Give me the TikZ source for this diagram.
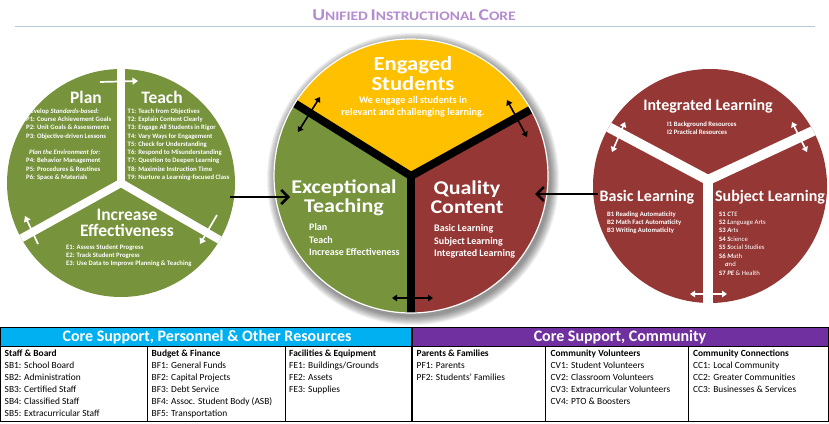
\documentclass[tikz,border=0pt]{standalone}
\usepackage{fontspec}
\usepackage{graphicx}
\setmainfont{Carlito}
\usetikzlibrary{arrows.meta}
\definecolor{cgreen}{HTML}{77933C}
\definecolor{cred}{HTML}{953735}
\definecolor{cyel}{HTML}{FFC000}
\definecolor{ccyan}{HTML}{00B0F0}
\definecolor{cpurple}{HTML}{7030A0}
\definecolor{ctitle}{HTML}{B48CD0}
\definecolor{crule}{HTML}{B9C8DA}
\newcommand\tcbig[1]{{\fontsize{16.5}{16.5}\selectfont #1}}
\newcommand\tcsml[1]{{\fontsize{13}{16.5}\selectfont #1}}
\newcommand\hstr[1]{\scalebox{1.13}[1]{#1}}
\begin{document}
\begin{tikzpicture}[x=1pt,y=-1pt,
 every node/.style={inner sep=0pt},
 ttl/.style={text=white,align=center,font=\bfseries\fontsize{17.5}{16}\selectfont},
 ctl/.style={text=white,align=center,font=\bfseries\fontsize{19.5}{19}\selectfont},
 etl/.style={text=white,align=center,font=\bfseries\fontsize{20}{20}\selectfont},
 rtl/.style={text=white,font=\bfseries\fontsize{16}{16}\selectfont},
 sml/.style={text=white,align=left,anchor=north west,font=\bfseries\fontsize{6.7}{8.25}\selectfont},
 smr/.style={text=white,align=left,anchor=north west,font=\fontsize{6.7}{8.45}\selectfont},
 clst/.style={text=white,align=left,anchor=north west,font=\bfseries\fontsize{10}{12.5}\selectfont},
 hdr/.style={text=white,font=\bfseries\fontsize{16}{16}\selectfont},
 cell/.style={align=left,anchor=north west,font=\fontsize{9.4}{12.1}\selectfont},
 divw/.style={white,line width=8pt},
 warr/.style={white,line width=1.7pt,-{Triangle[length=5.5pt,width=7pt]}},
 wdarr/.style={white,line width=1.6pt,{Triangle[length=5pt,width=6.5pt]}-{Triangle[length=5pt,width=6.5pt]}},
 bdarr/.style={black,line width=1.6pt,{Triangle[length=5pt,width=6.5pt]}-{Triangle[length=5pt,width=6.5pt]}},
 barr/.style={black,line width=2.6pt,-{Straight Barb[length=7pt,width=14pt]}},
]
\useasboundingbox (0,0) rectangle (829,423);
\fill[white] (0,0) rectangle (829,423);

% ---------- title
\node[text=ctitle,font=\bfseries] (title) at (414,15)
  {\scalebox{1.19}[1]{\tcbig{U}\tcsml{NIFIED} \tcbig{I}\tcsml{NSTRUCTIONAL} \tcbig{C}\tcsml{ORE}}};
\coordinate (rA) at (15,26.5);
\coordinate (rB) at (815,26.5);
\draw[crule,line width=0.8pt] (rA) -- (rB);

% ---------- left circle
\coordinate (LC) at (121,183);
\fill[cgreen] (LC) circle (114);
\begin{scope}
 \clip (LC) circle (114);
 \draw[divw] (LC) -- ++(270:130);
 \draw[divw] (LC) -- ++(151:130);
 \draw[divw] (LC) -- ++(30:130);
 \fill[white] (LC) circle (4.5);
\end{scope}
\coordinate (la1) at (100,82);  \coordinate (la2) at (138,81);
\coordinate (lb1) at (217,215); \coordinate (lb2) at (200,244);
\coordinate (lc1) at (38,244);  \coordinate (lc2) at (25,216);
\draw[warr] (la1) -- (la2);
\draw[warr] (lb1) -- (lb2);
\draw[warr] (lc1) -- (lc2);

\node[ttl] (plan) at (86,97) {Plan};
\node[ttl] (teach) at (162,97) {Teach};
\node[ttl] (incr) at (127,223) {Increase\\Effectiveness};
\node[sml] (planlist) at (26,108.5) {Develop \textit{Standards-based:}\\
P1: Course Achievement Goals\\
P2: Unit Goals \& Assessments\\
P3: Objective-driven Lessons\\[8.25pt]
\hspace*{3pt}\textit{Plan the Environment for:}\\
P4: Behavior Management\\
P5: Procedures \& Routines\\
P6: Space \& Materials};
\node[sml] (teachlist) at (127.5,108.5) {T1: Teach from Objectives\\
T2: Explain Content Clearly\\
T3: Engage All Students in Rigor\\
T4: Vary Ways for Engagement\\
T5: Check for Understanding\\
T6: Respond to Misunderstanding\\
T7: Question to Deepen Learning\\
T8: Maximize Instruction Time\\
T9: Nurture a Learning-focused Class};
\node[sml] (elist) at (66,244.5) {E1: Assess Student Progress\\
E2: Track Student Progress\\
E3: Use Data to Improve Planning \& Teaching};

% ---------- center circle
\coordinate (CC) at (411,176);
\coordinate (CS) at (413,179);
\foreach \i in {1,...,9} \fill[black,opacity=0.055] (CS) circle ({137+\i});
\fill[cgreen] (CC) -- ++(90:137) arc[start angle=90,end angle=212,radius=137] -- cycle;
\fill[cyel] (CC) -- ++(212:137) arc[start angle=212,end angle=331,radius=137] -- cycle;
\fill[cred] (CC) -- ++(331:137) arc[start angle=331,end angle=450,radius=137] -- cycle;
\begin{scope}
 \clip (CC) circle (137);
 \draw[line width=8pt] (CC) -- ++(90:150);
 \draw[line width=8pt] (CC) -- ++(212:150);
 \draw[line width=8pt] (CC) -- ++(331:150);
 \fill[black] (CC) circle (4.6);
\end{scope}
\draw[white,line width=1.2pt] (CC) circle (137);
\coordinate (ca1) at (320,97);  \coordinate (ca2) at (298,132);
\coordinate (cb1) at (507,100); \coordinate (cb2) at (527,137);
\coordinate (cc1) at (392,298); \coordinate (cc2) at (433,298);
\draw[bdarr] (ca1) -- (ca2);
\draw[bdarr] (cb1) -- (cb2);
\draw[bdarr] (cc1) -- (cc2);

\node[etl] (engaged) at (413,73.5) {\hstr{Engaged}\\\hstr{Students}};
\node[text=white,align=center,font=\bfseries\fontsize{10.2}{12}\selectfont] (engtxt) at (413,107)
 {We engage all students in\\relevant and challenging learning.};
\node[ctl] (exc) at (344,197.5) {\hstr{Exceptional}\\\hstr{Teaching}};
\node[ctl] (qual) at (467,197.5) {\hstr{Quality}\\\hstr{Content}};
\node[clst] (exclist) at (309,223.5) {Plan\\Teach\\Increase Effectiveness};
\node[clst] (quallist) at (434,224.5) {Basic Learning\\Subject Learning\\Integrated Learning};

% ---------- right circle
\coordinate (RC) at (710,186);
\coordinate (RJ) at (708,180);
\fill[cred] (RC) circle (117);
\begin{scope}
 \clip (RC) circle (117);
 \draw[divw,line width=10pt] (RJ) -- ++(90:140);
 \draw[divw,line width=10pt] (RJ) -- ++(208:160);
 \draw[divw,line width=10pt] (RJ) -- ++(335:160);
 \fill[white] (RJ) circle (5.5);
\end{scope}
\coordinate (ra1) at (625,122); \coordinate (ra2) at (612,152);
\coordinate (rb1) at (792,122); \coordinate (rb2) at (807,152);
\coordinate (rc1) at (690,294); \coordinate (rc2) at (727,294);
\draw[wdarr] (ra1) -- (ra2);
\draw[wdarr] (rb1) -- (rb2);
\draw[wdarr] (rc1) -- (rc2);

\node[rtl] (integ) at (708,106) {Integrated Learning};
\node[rtl] (basic) at (647,197) {Basic Learning};
\node[rtl] (subj) at (770,197) {Subject Learning};
\node[sml] (ilist) at (667,121.5) {I1 Background Resources\\I2 Practical Resources};
\node[sml] (blist) at (607,211.5) {B1 Reading Automaticity\\B2 Math Fact Automaticity\\B3 Writing Automaticity};
\node[smr] (slist) at (719,211.5) {\textbf{S1 \textit{C}}TE\\
\textbf{S2 \textit{L}}anguage Arts\\
\textbf{S3 \textit{A}}rts\\
\textbf{S4 \textit{S}}cience\\
\textbf{S5 \textit{S}}ocial Studies\\
\textbf{S6 \textit{M}}ath\\
\hspace*{6pt}\textbf{\textit{a}}nd\\
\textbf{S7 \textit{PE}} \& Health};

% ---------- connectors between circles
\coordinate (k1) at (230,197); \coordinate (k2) at (290,197);
\coordinate (m1) at (598,194); \coordinate (m2) at (535,194);
\draw[barr] (k1) -- (k2);
\draw[barr] (m1) -- (m2);

% ---------- table
\fill[ccyan] (1,327.5) rectangle (411,346.5);
\fill[cpurple] (413,327.5) rectangle (828,346.5);
\draw[line width=1pt] (0.5,327) rectangle (828.5,421);
\draw[line width=0.8pt] (0.5,346.5) -- (828.5,346.5);
\draw[line width=0.8pt] (147.5,346.5) -- (147.5,421);
\draw[line width=0.8pt] (285.5,346.5) -- (285.5,421);
\draw[line width=0.8pt] (545.5,346.5) -- (545.5,421);
\draw[line width=0.8pt] (688.5,346.5) -- (688.5,421);
\draw[line width=2.6pt] (412,327) -- (412,421);
\node[hdr] (h1) at (207,337.5) {Core Support, Personnel \& Other Resources};
\node[hdr] (h2) at (620,337.5) {Core Support, Community};
\node[cell] (t1) at (4.5,349.5) {\textbf{Staff \& Board}\\SB1: School Board\\SB2: Administration\\SB3: Certified Staff\\SB4: Classified Staff\\SB5: Extracurricular Staff};
\node[cell] (t2) at (151.5,349.5) {\textbf{Budget \& Finance}\\BF1: General Funds\\BF2: Capital Projects\\BF3: Debt Service\\BF4: Assoc. Student Body (ASB)\\BF5: Transportation};
\node[cell] (t3) at (289,349.5) {\textbf{Facilities \& Equipment}\\FE1: Buildings/Grounds\\FE2: Assets\\FE3: Supplies};
\node[cell] (t4) at (416.5,349.5) {\textbf{Parents \& Families}\\PF1: Parents\\PF2: Students' Families};
\node[cell] (t5) at (550.5,349.5) {\textbf{Community Volunteers}\\CV1: Student Volunteers\\CV2: Classroom Volunteers\\CV3: Extracurricular Volunteers\\CV4: PTO \& Boosters};
\node[cell] (t6) at (693,349.5) {\textbf{Community Connections}\\CC1: Local Community\\CC2: Greater Communities\\CC3: Businesses \& Services};
\end{tikzpicture}
\end{document}
